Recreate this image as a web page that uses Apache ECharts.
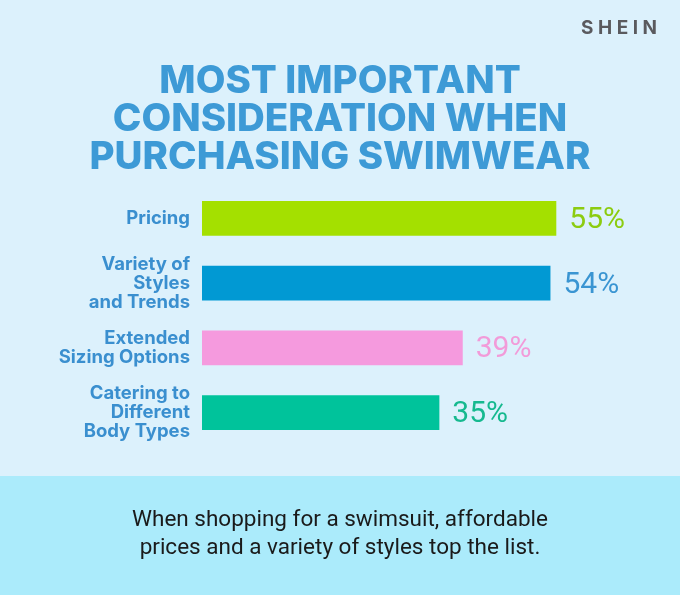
<!DOCTYPE html>
<html>
<head>
<meta charset="utf-8">
<script src="https://cdn.jsdelivr.net/npm/echarts@6/dist/echarts.min.js"></script>
<style>
html,body{margin:0;padding:0;background:#dcf1fc;}
#chart{width:680px;height:595px;}
</style>
</head>
<body>
<div id="chart"></div>
<script>
const categories = ['Pricing', 'Variety of\nStyles\nand Trends', 'Extended\nSizing Options', 'Catering to\nDifferent\nBody Types'];
const values = [55, 54, 39, 35];
const barColors = ['#a4e000', '#0199d3', '#f59ade', '#00c39b'];
const labelColors = ['#8ccc10', '#3a95d2', '#f29bd9', '#16b98f'];
const titleText = 'MOST IMPORTANT\nCONSIDERATION WHEN\nPURCHASING SWIMWEAR';
const footText = 'When shopping for a swimsuit, affordable\nprices and a variety of styles top the list.';
const brandText = 'S H E I N';

const X_MIN = -5.6, X_MAX = 70;

const chart = echarts.init(document.getElementById('chart'), null, {renderer: 'canvas'});
chart.setOption({
  backgroundColor: '#dcf1fc',
  animation: false,
  graphic: [
    {type: 'rect', left: 0, top: 476, shape: {width: 680, height: 119}, style: {fill: '#abebfb'}, z: -10}
  ],
  title: [
    {text: titleText, left: 'center', top: 57,
      textStyle: {fontFamily: 'Inter', fontWeight: 800, fontSize: 38.5, lineHeight: 38, color: '#3d9ad6', align: 'center'}},
    {text: brandText, right: 18, top: 14,
      textStyle: {fontFamily: 'Inter', fontWeight: 700, fontSize: 19, color: '#5a5a5e'}},
    {text: footText, left: 'center', top: 501,
      textStyle: {fontFamily: 'Roboto', fontWeight: 400, fontSize: 22.5, lineHeight: 28, color: '#1a1a1a', align: 'center'}}
  ],
  grid: {left: 202, right: 36, top: 186, bottom: 150},
  xAxis: {type: 'value', min: X_MIN, max: X_MAX, show: false},
  yAxis: {
    type: 'category', data: categories, inverse: true,
    axisLine: {show: false}, axisTick: {show: false},
    axisLabel: {margin: 12, fontFamily: 'Inter', fontWeight: 700, fontSize: 18.5, lineHeight: 19, color: '#3a8fcf', align: 'right'}
  },
  series: [{
    type: 'custom',
    encode: {x: 0, y: 1},
    data: values.map((v, i) => [v, i]),
    renderItem: function (params, api) {
      const idx = api.value(1);
      const start = api.coord([X_MIN, idx]);
      const end = api.coord([api.value(0), idx]);
      const h = api.size([0, 1])[1] * 0.54;
      return {
        type: 'group',
        children: [
          {type: 'rect', shape: {x: start[0], y: start[1] - h / 2, width: end[0] - start[0], height: h},
            style: {fill: barColors[params.dataIndex]}},
          {type: 'text', x: end[0] + 13, y: end[1] + 2,
            style: {text: api.value(0) + '%', fill: labelColors[params.dataIndex], font: '400 30px Roboto', verticalAlign: 'middle', align: 'left'}}
        ]
      };
    }
  }]
});
</script>
</body>
</html>
